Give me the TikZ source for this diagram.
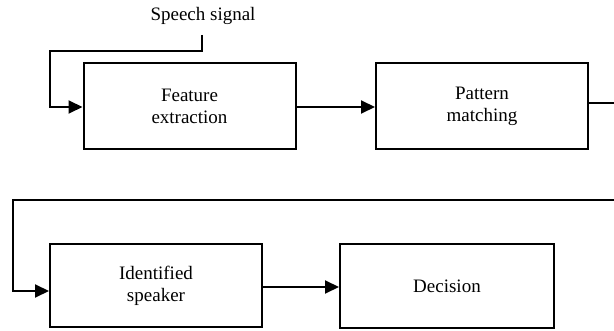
\documentclass[tikz,border=0pt]{standalone}
\usepackage{fontspec}
\setmainfont{Liberation Serif}
\usetikzlibrary{arrows.meta}
\begin{document}
\begin{tikzpicture}[x=1pt,y=-1pt,
  blk/.style={draw,line width=2pt,minimum width=212pt,minimum height=86pt,inner sep=0pt,align=center,font=\fontsize{19}{22}\selectfont},
  conn/.style={line width=2pt},
  arr/.style={conn,-{Triangle[length=14pt,width=13pt]}}]
\useasboundingbox (0,0) rectangle (614,331);
\node[blk] (fe) at (189.5,106) {Feature\\extraction};
\node[blk] (pm) at (482,106) {Pattern\\matching};
\node[blk,minimum height=83pt] (is) at (156,285.5) {Identified\\speaker};
\node[blk,minimum width=214pt,minimum height=84pt] (de) at (447,286) {Decision};
\node[font=\fontsize{19}{22}\selectfont,inner sep=0pt] (sp) at (203,16) {Speech signal};
\coordinate (s1) at (202,35);
\coordinate (s2) at (202,51);
\coordinate (s3) at (50,51);
\coordinate (s4) at (50,107);
\draw[arr] (s1) -- (s2) -- (s3) -- (s4) -- (s4 -| fe.west);
\draw[arr] (fe.east |- 0,107) -- (pm.west |- 0,107);
\coordinate (r1) at (614,103);
\draw[conn] (pm.east |- r1) -- (r1);
\coordinate (t1) at (614,200);
\coordinate (t2) at (13,200);
\coordinate (t3) at (13,291);
\draw[arr] (t1) -- (t2) -- (t3) -- (t3 -| is.west);
\draw[arr] (is.east |- 0,287) -- (de.west |- 0,287);
\end{tikzpicture}
\end{document}
